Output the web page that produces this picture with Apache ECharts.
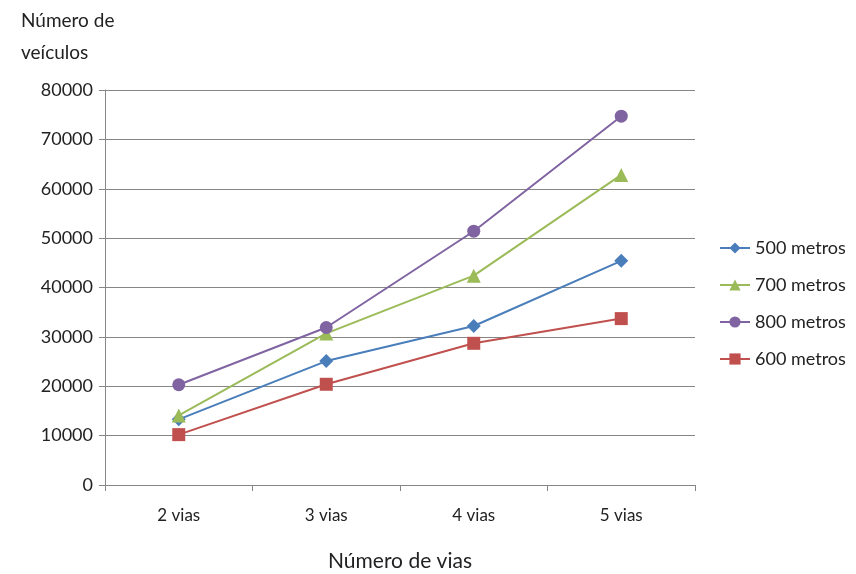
<!DOCTYPE html>
<html>
<head>
<meta charset="utf-8">
<script src="https://cdn.jsdelivr.net/npm/echarts@6/dist/echarts.min.js"></script>
<style>
html,body{margin:0;padding:0;background:#fff;}
#chart{width:856px;height:574px;}
</style>
</head>
<body>
<div id="chart"></div>
<script>
var categories = ['2 vias', '3 vias', '4 vias', '5 vias'];
var s500 = [13300, 25100, 32200, 45400];
var s700 = [14100, 30700, 42400, 62800];
var s800 = [20300, 31900, 51400, 74700];
var s600 = [10200, 20400, 28700, 33700];
var seriesNames = ['500 metros', '700 metros', '800 metros', '600 metros'];

var font = 'Lato, "Open Sans", sans-serif';

function mkSeries(name, data, color, symbol, size){
    return {
        name: name,
        type: 'line',
        data: data,
        symbol: symbol,
        symbolSize: size,
        itemStyle: { color: color },
        lineStyle: { color: color, width: 2 }
    };
}

var myChart = echarts.init(document.getElementById('chart'));
var myoption = {
    animation: false,
    title: {
        text: 'Número de\nveículos',
        left: 16,
        top: 0,
        textStyle: {
            fontFamily: font,
            fontWeight: 'normal',
            fontSize: 19,
            color: '#222',
            lineHeight: 32
        }
    },
    grid: { left: 105, right: 161, top: 90, bottom: 89, outerBoundsMode: 'none' },
    legend: {
        orient: 'vertical',
        left: 714,
        top: 234,
        itemGap: 19,
        itemWidth: 30,
        itemHeight: 14,
        data: seriesNames,
        textStyle: { fontFamily: font, fontSize: 18, color: '#222' }
    },
    xAxis: {
        type: 'category',
        data: categories,
        boundaryGap: true,
        name: 'Número de vias',
        nameLocation: 'middle',
        nameGap: 66,
        nameTextStyle: { fontFamily: font, fontSize: 21, color: '#222' },
        axisLine: { lineStyle: { color: '#868686', width: 1 } },
        axisTick: { show: true, length: 6, lineStyle: { color: '#868686' } },
        axisLabel: { fontFamily: font, fontSize: 17, color: '#222', margin: 22 }
    },
    yAxis: {
        type: 'value',
        min: 0,
        max: 80000,
        interval: 10000,
        axisLine: { show: true, lineStyle: { color: '#868686', width: 1 } },
        axisTick: { show: true, length: 6, lineStyle: { color: '#868686' } },
        axisLabel: {
            fontFamily: font, fontSize: 18, color: '#222', margin: 12,
            formatter: function (v) { return String(v); }
        },
        splitLine: { lineStyle: { color: '#868686', width: 1 } }
    },
    series: [
        mkSeries(seriesNames[0], s500, '#4A7EBB', 'diamond', 14),
        mkSeries(seriesNames[1], s700, '#9BBB59', 'triangle', 14),
        mkSeries(seriesNames[2], s800, '#8064A2', 'circle', 13),
        mkSeries(seriesNames[3], s600, '#C0504D', 'rect', 13)
    ]
};
myChart.setOption(myoption);
</script>
</body>
</html>
